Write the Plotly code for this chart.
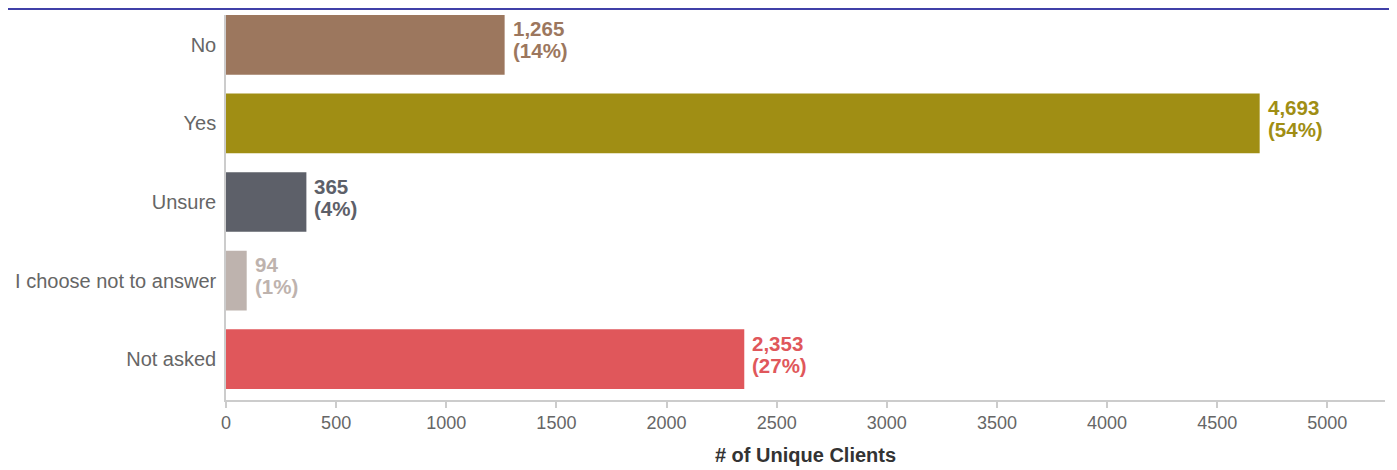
import plotly.graph_objects as go

categories = ["No", "Yes", "Unsure", "I choose not to answer", "Not asked"]
counts = [1265, 4693, 365, 94, 2353]
colors = ["#9C775E", "#A08E14", "#5D6069", "#BEB3AE", "#E0575B"]
x_ticks = [0, 500, 1000, 1500, 2000, 2500, 3000, 3500, 4000, 4500, 5000]
x_title = "# of Unique Clients"

total = sum(counts)
pcts = [round(100 * c / total) for c in counts]

FONT = "Liberation Sans, Arial, sans-serif"

fig = go.Figure(
    go.Bar(
        x=counts,
        y=categories,
        orientation="h",
        marker=dict(color=colors, line=dict(width=0)),
        width=0.76,
        hoverinfo="skip",
    )
)

annotations = []
for cat, c, p, col in zip(categories, counts, pcts, colors):
    annotations.append(dict(
        x=c, y=cat, xref="x", yref="y", text=f"<b>{c:,}</b>",
        showarrow=False, xanchor="left", yanchor="middle",
        xshift=6, yshift=16, font=dict(family=FONT, size=20.5, color=col),
    ))
    annotations.append(dict(
        x=c, y=cat, xref="x", yref="y", text=f"<b>({p}%)</b>",
        showarrow=False, xanchor="left", yanchor="middle",
        xshift=6, yshift=-6, font=dict(family=FONT, size=20.5, color=col),
    ))

plot_h = 462 - 7 - 70

fig.update_layout(
    width=1389, height=462,
    margin=dict(l=214, r=12, t=7, b=70),
    paper_bgcolor="white", plot_bgcolor="white",
    showlegend=False,
    font=dict(family=FONT, size=18, color="#666666"),
    annotations=annotations,
    shapes=[dict(type="line", xref="paper", yref="paper",
                 x0=-0.25, x1=1.05, y0=1 + 6 / plot_h, y1=1 + 6 / plot_h,
                 line=dict(color="#00008B", width=1.5))],
    xaxis=dict(
        range=[0, 5262], tickvals=x_ticks, showgrid=False, zeroline=False,
        showline=True, linecolor="#CCCCCC", linewidth=1.5,
        ticks="outside", ticklen=6, tickcolor="#CCCCCC", tickwidth=1.5,
        tickfont=dict(family=FONT, size=18, color="#666666"),
        title=dict(text=f"<b>{x_title}</b>", standoff=16,
                   font=dict(family=FONT, size=20, color="#333333")),
    ),
    yaxis=dict(
        categoryorder="array", categoryarray=categories,
        range=[4.52, -0.38], showgrid=False, zeroline=False,
        showline=True, linecolor="#CCCCCC", linewidth=1.5,
        ticks="", ticklabelstandoff=4,
        tickfont=dict(family=FONT, size=20, color="#666666"),
    ),
)

fig.write_html("out.html")
